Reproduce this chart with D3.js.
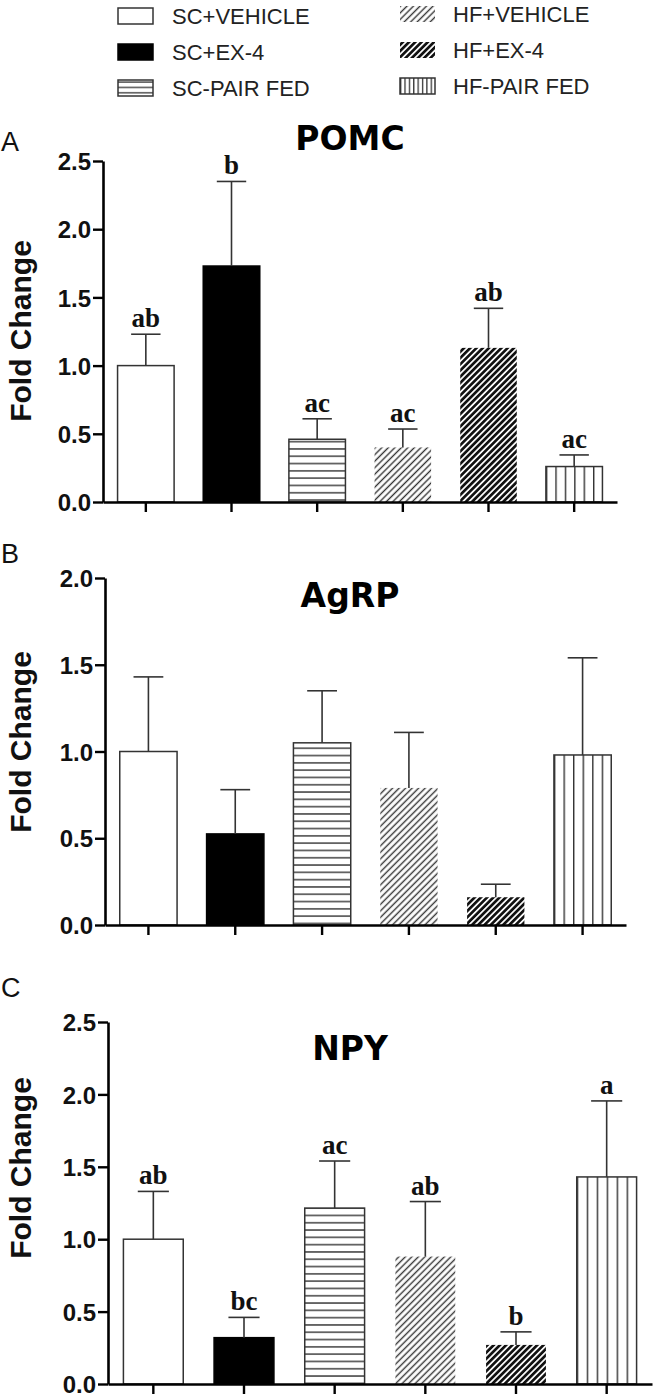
<!DOCTYPE html>
<html><head><meta charset="utf-8">
<script src="https://cdn.jsdelivr.net/npm/d3@7"></script>
<style>body{margin:0;background:#fff}svg{display:block}</style>
</head><body>
<svg id="c" width="656" height="1399"></svg>
<script>
// ---- data ----
const groups = ["SC+VEHICLE","SC+EX-4","SC-PAIR FED","HF+VEHICLE","HF+EX-4","HF-PAIR FED"];
const yTicksA = [0,0.5,1.0,1.5,2.0,2.5];
const yTicksB = [0,0.5,1.0,1.5,2.0];
const yTicksC = [0,0.5,1.0,1.5,2.0,2.5];
const pomcMean = [1.00,1.73,0.46,0.40,1.13,0.26];
const pomcSem  = [0.23,0.62,0.15,0.135,0.29,0.085];
const pomcLetters = ["ab","b","ac","ac","ab","ac"];
const agrpMean = [1.00,0.525,1.05,0.79,0.16,0.98];
const agrpSem  = [0.43,0.255,0.30,0.32,0.075,0.56];
const agrpLetters = ["","","","","",""];
const npyMean = [1.00,0.32,1.215,0.88,0.27,1.43];
const npySem  = [0.33,0.14,0.325,0.38,0.09,0.525];
const npyLetters = ["ab","bc","ac","ab","b","a"];

const svg = d3.select("#c");
const defs = svg.append("defs");
const SANS = "'Liberation Sans', Arial, sans-serif";

// patterns
function hPattern(id, gap, sw){
  const p = defs.append("pattern").attr("id",id).attr("patternUnits","userSpaceOnUse")
    .attr("width",10).attr("height",gap);
  p.append("rect").attr("width",10).attr("height",gap).attr("fill","#fff");
  p.append("line").attr("x1",0).attr("x2",10).attr("y1",gap/2).attr("y2",gap/2)
    .attr("stroke","#333").attr("stroke-width",sw);
}
function dPattern(id, gap, sw, col){
  const p = defs.append("pattern").attr("id",id).attr("patternUnits","userSpaceOnUse")
    .attr("width",gap).attr("height",gap).attr("patternTransform","rotate(45)");
  p.append("rect").attr("width",gap).attr("height",gap).attr("fill","#fff");
  p.append("line").attr("x1",gap/2).attr("x2",gap/2).attr("y1",0).attr("y2",gap)
    .attr("stroke",col).attr("stroke-width",sw);
}
function vPatternBox(id, n, sw){
  const p = defs.append("pattern").attr("id",id).attr("patternUnits","objectBoundingBox")
    .attr("x",0).attr("y",0).attr("width",1/n).attr("height",1);
  p.append("rect").attr("width",200).attr("height",2000).attr("fill","#fff");
  p.append("line").attr("x1",sw/2).attr("x2",sw/2).attr("y1",0).attr("y2",2000)
    .attr("stroke","#333").attr("stroke-width",sw);
}
hPattern("hl",7.3,1.4);
hPattern("hlLeg",5.3,1.3);
dPattern("dLight",4.6,1.4,"#333");
dPattern("dDark",4.4,2.7,"#111");
vPatternBox("vl",6,1.4);
vPatternBox("vlLeg",8,1.3);

const fills = ["#fff","#000","url(#hl)","url(#dLight)","url(#dDark)","url(#vl)"];
const legFills = ["#fff","#000","url(#hlLeg)","url(#dLight)","url(#dDark)","url(#vlLeg)"];
const strokes = ["#333","#000","#333","none","none","#333"];

// ---- legend ----
const legRows = [16,52,88];
groups.forEach((g,i)=>{
  const col = i<3?0:1, row = i%3;
  const sx = col===0?118:400, tx = col===0?172:453;
  const yc = legRows[row] - (col===1?2:0);
  svg.append("rect").attr("x",sx).attr("y",yc-8).attr("width",35).attr("height",16)
    .attr("fill",legFills[i]).attr("stroke",strokes[i]).attr("stroke-width",1.5);
  svg.append("text").attr("x",tx).attr("y",yc+8).attr("font-family",SANS)
    .attr("font-size",22).attr("fill","#222").text(g);
});

// ---- panels ----
const panels = [
  {letter:"A", title:"POMC", mean:pomcMean, sem:pomcSem, labels:pomcLetters, ticks:yTicksA,
   max:2.5, y0:502, y1:161, x0:103, x1:617, letterY:151, titleY:150, labelY:331},
  {letter:"B", title:"AgRP", mean:agrpMean, sem:agrpSem, labels:agrpLetters, ticks:yTicksB,
   max:2.0, y0:925, y1:578, x0:105, x1:626, letterY:563, titleY:607, labelY:742},
  {letter:"C", title:"NPY", mean:npyMean, sem:npySem, labels:npyLetters, ticks:yTicksC,
   max:2.5, y0:1384, y1:1022, x0:108, x1:652, letterY:997, titleY:1060, labelY:1168}
];

panels.forEach(P=>{
  const g = svg.append("g");
  const x = d3.scaleBand().domain(groups).range([P.x0,P.x1]).paddingInner(0.34).paddingOuter(0.17);
  const y = d3.scaleLinear().domain([0,P.max]).range([P.y0,P.y1]);
  const bw = x.bandwidth();

  // bars
  groups.forEach((name,i)=>{
    g.append("rect").attr("x",x(name)).attr("y",y(P.mean[i]))
      .attr("width",bw).attr("height",y(0)-y(P.mean[i]))
      .attr("fill",fills[i]).attr("stroke",strokes[i]).attr("stroke-width",1.5);
    const cx = x(name)+bw/2, top = y(P.mean[i]+P.sem[i]);
    g.append("line").attr("x1",cx).attr("x2",cx).attr("y1",y(P.mean[i])).attr("y2",top)
      .attr("stroke","#333").attr("stroke-width",1.6);
    g.append("line").attr("x1",cx-bw*0.26).attr("x2",cx+bw*0.26).attr("y1",top).attr("y2",top)
      .attr("stroke","#333").attr("stroke-width",1.6);
    if(P.labels[i]){
      g.append("text").attr("x",cx).attr("y",top-7).attr("text-anchor","middle")
        .attr("font-family","'Liberation Serif', 'Times New Roman', serif").attr("font-weight","bold")
        .attr("font-size",27).attr("fill","#111").text(P.labels[i]);
    }
  });

  // axes
  const ya = g.append("g").attr("transform",`translate(${P.x0},0)`)
    .call(d3.axisLeft(y).tickValues(P.ticks).tickFormat(d3.format(".1f")).tickSize(10).tickSizeOuter(0).tickPadding(2));
  ya.select(".domain").attr("stroke","#000").attr("stroke-width",2.6);
  ya.selectAll(".tick line").attr("stroke","#000").attr("stroke-width",2.4);
  ya.selectAll(".tick text").attr("font-family",SANS).attr("font-weight","bold")
    .attr("font-size",24).attr("fill","#111").attr("dy","0.36em");

  const xa = g.append("g").attr("transform",`translate(0,${P.y0})`)
    .call(d3.axisBottom(x).tickSize(10).tickSizeOuter(0).tickFormat(""));
  xa.select(".domain").attr("stroke","#000").attr("stroke-width",2.6);
  xa.selectAll(".tick line").attr("stroke","#000").attr("stroke-width",2.4);

  // titles and labels
  g.append("text").attr("x",350).attr("y",P.titleY).attr("text-anchor","middle")
    .attr("font-family","'DejaVu Sans', sans-serif").attr("font-weight","bold")
    .attr("font-size",33).attr("fill","#000").text(P.title);
  g.append("text").attr("x",1).attr("y",P.letterY).attr("font-family",SANS)
    .attr("font-size",27).attr("fill","#111").text(P.letter);
  g.append("text").attr("transform",`translate(31,${P.labelY}) rotate(-90)`)
    .attr("text-anchor","middle").attr("font-family",SANS).attr("font-weight","bold")
    .attr("font-size",30).attr("fill","#111").text("Fold Change");
});
</script>
</body></html>
